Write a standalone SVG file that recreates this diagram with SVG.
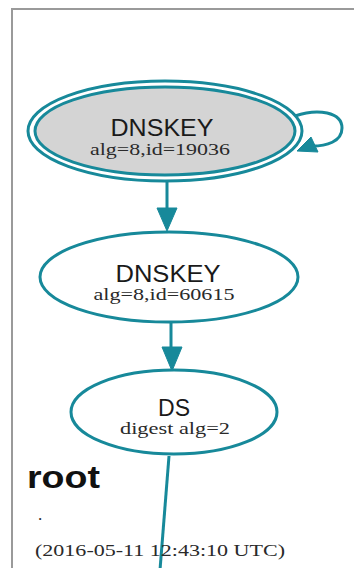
<svg xmlns="http://www.w3.org/2000/svg" width="354" height="568" viewBox="0 0 354 568">
<style>
.node{fill:none;stroke:#17899a;stroke-width:3}
.edge{fill:none;stroke:#17899a;stroke-width:3}
.head{fill:#17899a;stroke:#17899a;stroke-width:1}
.t1{font-family:"Liberation Sans",Arial,sans-serif;font-size:23px;fill:#1a1a1a}
.t2{font-family:"Liberation Serif","Times New Roman",serif;font-size:17px;fill:#2a2a2a}
</style>
<rect x="0" y="0" width="354" height="568" fill="#ffffff"/>
<path d="M12 570 V9 H356" fill="none" stroke="#9a9a9a" stroke-width="2"/>
<g id="edges">
<path class="edge" d="M295 116 C318 108 342 112 342 128 C342 142 326 146 312 146"/>
<polygon class="head" points="297,151 311,137 318,152"/>
<path class="edge" d="M167 182 V210"/>
<polygon class="head" points="157,208 177,208 167,231"/>
<path class="edge" d="M171 322 V348"/>
<polygon class="head" points="162,347 182,347 172,371"/>
<path class="edge" d="M169 456 L160 570"/>
</g>
<g id="n_dnskey_19036">
<ellipse cx="165" cy="131" rx="137" ry="50" class="node"/>
<ellipse cx="165" cy="131" rx="130" ry="44" fill="#d4d4d4" stroke="#17899a" stroke-width="3"/>
<text x="162" y="136" text-anchor="middle" class="t1" textLength="103" lengthAdjust="spacingAndGlyphs">DNSKEY</text>
<text x="160" y="155" text-anchor="middle" class="t2" textLength="140" lengthAdjust="spacingAndGlyphs">alg=8,id=19036</text>
</g>
<g id="n_dnskey_60615">
<ellipse cx="169" cy="277" rx="129" ry="45" class="node"/>
<text x="168" y="282" text-anchor="middle" class="t1" textLength="105" lengthAdjust="spacingAndGlyphs">DNSKEY</text>
<text x="164" y="300" text-anchor="middle" class="t2" textLength="141" lengthAdjust="spacingAndGlyphs">alg=8,id=60615</text>
</g>
<g id="n_ds">
<ellipse cx="174" cy="412" rx="103" ry="42" class="node"/>
<text x="174" y="416" text-anchor="middle" class="t1" textLength="32" lengthAdjust="spacingAndGlyphs">DS</text>
<text x="175" y="434" text-anchor="middle" class="t2" textLength="110" lengthAdjust="spacingAndGlyphs">digest alg=2</text>
</g>
<g id="zone_label">
<text x="27" y="488" font-family="'Liberation Sans',Arial,sans-serif" font-weight="bold" font-size="32" fill="#111" textLength="73" lengthAdjust="spacingAndGlyphs">root</text>
<text x="38" y="520" class="t2">.</text>
<text x="35" y="556" class="t2" font-size="19" textLength="250" lengthAdjust="spacingAndGlyphs">(2016-05-11 12:43:10 UTC)</text>
</g>
</svg>
